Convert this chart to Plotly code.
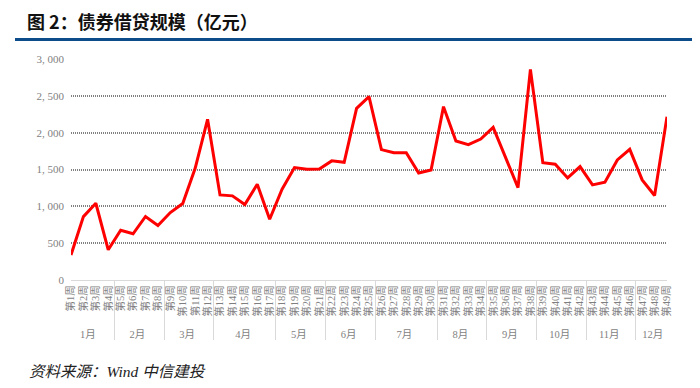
import plotly.graph_objects as go

months = ["1月"]*4 + ["2月"]*4 + ["3月"]*4 + ["4月"]*5 + ["5月"]*4 + ["6月"]*4 + \
         ["7月"]*5 + ["8月"]*4 + ["9月"]*4 + ["10月"]*4 + ["11月"]*4 + ["12月"]*3
weeks = [f"第{i}周" for i in range(1, 50)]
values = [340, 860, 1042, 410, 676, 627, 862, 740, 916, 1038,
          1517, 2181, 1155, 1142, 1024, 1300, 825, 1232, 1526, 1503,
          1508, 1617, 1598, 2330, 2489, 1770, 1729, 1729, 1453, 1494,
          2353, 1887, 1838, 1914, 2072, 1675, 1254, 2859, 1593, 1571,
          1386, 1540, 1291, 1327, 1630, 1774, 1359, 1147, 2217]
y_ticks = [0, 500, 1000, 1500, 2000, 2500, 3000]
y_labels = ["0", "500", "1, 000", "1, 500", "2, 000", "2, 500", "3, 000"]

FONT = "Liberation Serif, Noto Sans CJK SC, serif"

# page body has an 8px margin; figure is sized so the page fits 700x388
OFF = 8
W, H = 700 - OFF, 388 - OFF
L, T = 71 - OFF, 59 - OFF
PR, PB = 667 - OFF, 280 - OFF
R, B = W - PR, H - PB
PW, PH = PR - L, PB - T

fig = go.Figure()
fig.add_trace(go.Scatter(
    x=[months, weeks], y=values, mode="lines",
    line=dict(color="#ff0000", width=3), hoverinfo="skip"))

fig.update_layout(
    width=W, height=H,
    margin=dict(l=L, r=R, t=T, b=B, autoexpand=False),
    paper_bgcolor="white", plot_bgcolor="white",
    showlegend=False,
    font=dict(family=FONT, color="#595959"),
    title=dict(text="<b>图 2：债券借贷规模（亿元）</b>", xref="container", yref="container",
               x=(27 - OFF)/W, y=1-(22.5 - OFF)/H, xanchor="left", yanchor="middle",
               font=dict(family="Noto Sans CJK SC", size=18, color="#111111")),
)
fig.update_yaxes(range=[0, 3000], tickvals=y_ticks, ticktext=y_labels,
                 showgrid=True, gridcolor="#808080", griddash="1px,1px", gridwidth=1.5,
                 zeroline=True, zerolinecolor="#d9d9d9", zerolinewidth=1,
                 showline=False, ticks="",
                 tickfont=dict(size=11, color="#7f7f7f", family=FONT),
                 ticklabelstandoff=6, fixedrange=True)
fig.update_xaxes(type="multicategory", tickangle=-90, tickmode="linear", tick0=0, dtick=1,
                 tickfont=dict(size=10.5, color="#7f7f7f", family=FONT),
                 showline=True, linecolor="#d9d9d9", linewidth=1,
                 showdividers=True, dividercolor="#d9d9d9", dividerwidth=1,
                 ticks="", showgrid=False, fixedrange=True)

# blue rule under title
ry = (PB - (39.5 - OFF))/PH
fig.add_shape(type="line", xref="paper", yref="paper",
              x0=(15 - OFF - L)/PW, x1=(W - L)/PW, y0=ry, y1=ry,
              line=dict(color="#0d4c8b", width=3))
fig.add_annotation(text="<i>资料来源：Wind 中信建投</i>", xref="paper", yref="paper",
                   x=(27 - OFF - L)/PW, y=(PB - (371.5 - OFF))/PH,
                   xanchor="left", yanchor="middle", showarrow=False,
                   font=dict(family="Liberation Serif, Noto Sans CJK SC", size=15.5, color="#222222"))

fig.write_html("out.html")
